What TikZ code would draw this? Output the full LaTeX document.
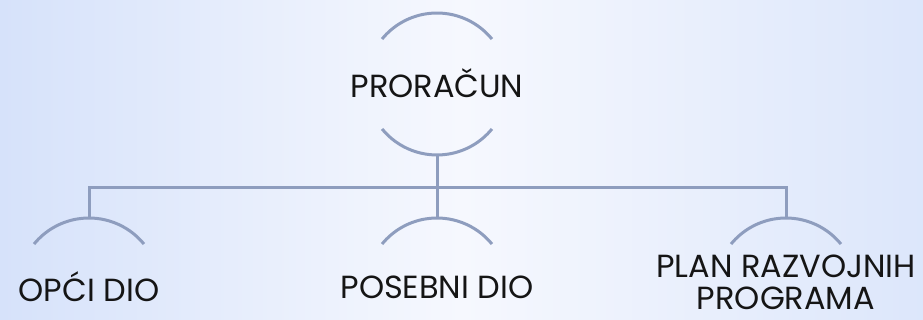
\documentclass[tikz,border=0pt]{standalone}
\usepackage{fontspec}
\setmainfont{Poppins}
\usepackage{xcolor}
\usepackage{tikz}

\definecolor{linkcol}{HTML}{8E9DBE}
\definecolor{bgedge}{HTML}{D6E2FA}
\definecolor{bgmid}{HTML}{F6F8FE}
\definecolor{txtcol}{HTML}{151515}

\tikzset{
  link/.style={draw=linkcol, line width=3pt},
  lbl/.style={font=\fontsize{32}{32}\selectfont, text=txtcol, inner sep=0pt, align=center}
}

\begin{document}
\begin{tikzpicture}[x=1pt, y=1pt]
  % Background
  \shade[left color=bgedge, right color=bgedge!85!white, middle color=bgmid]
    (0,0) rectangle (923,320);
  \useasboundingbox (0,0) rectangle (923,320);

  % Circle centres of the four boxes
  \coordinate (rootc) at (437,236);
  \foreach \n/\x in {opci/89, posebni/437, plan/786} {
    \coordinate (\n c) at (\x,31);
    \coordinate (\n top) at (\x,102);
  }
  \coordinate (rootbot) at (437,165);
  \coordinate (bar) at (437,132);

  % Labels
  \node[lbl] (root) at (437,237) {PRORAČUN};
  \node[lbl] (opci) at (89,33) {OPĆI DIO};
  \node[lbl] (posebni) at (437,33) {POSEBNI DIO};
  \node[lbl] (plan) at (786,38) {PLAN RAZVOJNIH\\PROGRAMA};

  % Arcs above every label
  \foreach \n in {rootc, opcic, posebnic, planc} {
    \draw[link] (\n) ++(39.3:71) arc[start angle=39.3, end angle=140.7, radius=71];
  }
  % Arc below the root
  \draw[link] (rootc) ++(219.3:71) arc[start angle=219.3, end angle=320.7, radius=71];

  % Connectors
  \draw[link] (rootbot) -- (posebnitop);
  \draw[link] (opcitop) -- (opcitop |- bar) -- (plantop |- bar) -- (plantop);
\end{tikzpicture}
\end{document}
